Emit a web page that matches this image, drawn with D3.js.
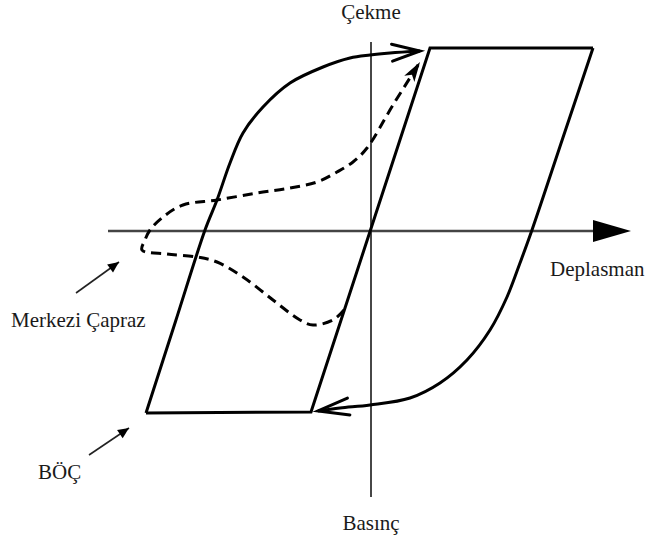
<!DOCTYPE html>
<html>
<head>
<meta charset="utf-8">
<script src="https://cdn.jsdelivr.net/npm/d3@7"></script>
<style>
  html, body { margin: 0; padding: 0; background: #fff; }
  svg { display: block; }
</style>
</head>
<body>
<script>
// ---- Data (schematic units: displacement on x, force on y) ----
const xDomain = [-26.3, 26.4];
const yDomain = [-26.6, 18.9];

// BÖÇ (buckling-restrained brace) frame: bottom-left, bottom-right, top-left, top-right
const bocFrame = [[-22.5, -18.2], [-6.0, -18.1], [5.9, 18.3], [22.2, 18.3]];

// BÖÇ loading curve toward tension (from bottom-left corner up to the arrow tip)
const bocTension = [
  [-22.5, -18.2], [-19.55, -9.05], [-16.6, 0.1], [-15.4, 3.1], [-14.1, 6.8],
  [-12.8, 9.8], [-10.8, 12.4], [-8.1, 14.8], [-4.8, 16.4], [-2.1, 17.3],
  [-0.1, 17.6], [1.9, 17.8], [4.9, 18.0]
];

// BÖÇ unloading curve toward compression (from top-right corner down to the arrow tip)
const bocCompression = [
  [22.2, 18.3], [19.15, 9.2], [16.1, 0.1], [14.9, -3.2], [13.6, -6.6],
  [11.9, -9.9], [9.6, -12.9], [6.9, -15.2], [3.9, -16.7], [-0.1, -17.4],
  [-3.1, -17.7], [-5.3, -18.0]
];

// Merkezi Çapraz (concentric brace) dashed curve
const merkeziCurve = [
  [-2.7, -7.9], [-3.8, -8.9], [-5.8, -9.4], [-7.1, -8.9], [-9.8, -6.9],
  [-12.8, -4.6], [-15.4, -3.1], [-17.4, -2.6], [-20.4, -2.3], [-22.9, -1.9],
  [-22.6, -0.9], [-22.1, 0.1], [-20.8, 1.4], [-18.8, 2.6], [-15.4, 3.1],
  [-11.4, 3.8], [-8.1, 4.3], [-5.4, 4.9], [-3.4, 5.9], [-1.8, 6.9],
  [-0.4, 8.3], [2.2, 12.6], [4.9, 16.9]
];

// Legend pointer arrows [from, to]
const merkeziPointer = [[-29.5, -6.2], [-25.2, -3.1]];
const bocPointer = [[-28.2, -22.4], [-24.2, -19.7]];

// Texts
const axisLabels = { top: "Çekme", bottom: "Basınç", right: "Deplasman" };
const seriesLabels = ["Merkezi Çapraz", "BÖÇ"];

// ---- Drawing ----
const W = 649, H = 539;
const x = d3.scaleLinear().domain(xDomain).range([108, 635]);
const y = d3.scaleLinear().domain(yDomain).range([497, 42]);

const svg = d3.select("body").append("svg").attr("width", W).attr("height", H)
  .attr("font-family", "'Liberation Serif', 'Times New Roman', Times, 'DejaVu Serif', serif");
const defs = svg.append("defs");

function marker(id, d, filled) {
  const m = defs.append("marker")
    .attr("id", id).attr("markerUnits", "userSpaceOnUse")
    .attr("viewBox", "-40 -20 44 40").attr("refX", 0).attr("refY", 0)
    .attr("markerWidth", 44).attr("markerHeight", 40)
    .attr("orient", "auto").attr("overflow", "visible");
  m.append("path").attr("d", d)
    .attr("fill", filled ? "#000" : "none")
    .attr("stroke", filled ? "none" : "#000")
    .attr("stroke-width", filled ? 0 : 3)
    .attr("stroke-linejoin", "miter")
    .attr("stroke-linecap", "round");
}
marker("openTop", "M-28,-8.5 L0,0 L-28,8.5", false);
marker("openBottom", "M-31,-8.5 L0,0 L-31,8.5", false);
marker("dashHead", "M-20,-6 L0,0 L-20,6 L-15,0 Z", true);
marker("pointerHead", "M-11,-5 L0,0 L-11,5 Z", true);

const line = d3.line().x(d => x(d[0])).y(d => y(d[1]));
const smooth = d3.line().x(d => x(d[0])).y(d => y(d[1])).curve(d3.curveCatmullRom.alpha(0.5));

// Axes
svg.append("line")
  .attr("x1", x(xDomain[0])).attr("x2", x(22.4))
  .attr("y1", y(0)).attr("y2", y(0))
  .attr("stroke", "#444").attr("stroke-width", 2.5);
svg.append("path")
  .attr("d", `M${x(22.2)},${y(1.1)} L${x(26.0)},${y(0)} L${x(22.2)},${y(-1.1)} Z`)
  .attr("fill", "#000");
svg.append("line")
  .attr("x1", x(0)).attr("x2", x(0))
  .attr("y1", y(yDomain[1])).attr("y2", y(yDomain[0]))
  .attr("stroke", "#333").attr("stroke-width", 1.8);

// BÖÇ frame
svg.append("path").attr("d", line(bocFrame))
  .attr("fill", "none").attr("stroke", "#000").attr("stroke-width", 3)
  .attr("stroke-linejoin", "miter");

// BÖÇ curves
svg.append("path").attr("d", smooth(bocTension))
  .attr("fill", "none").attr("stroke", "#000").attr("stroke-width", 3)
  .attr("marker-end", "url(#openTop)");
svg.append("path").attr("d", smooth(bocCompression))
  .attr("fill", "none").attr("stroke", "#000").attr("stroke-width", 3)
  .attr("marker-end", "url(#openBottom)");

// Merkezi Çapraz dashed
svg.append("path").attr("d", smooth(merkeziCurve))
  .attr("fill", "none").attr("stroke", "#000").attr("stroke-width", 3)
  .attr("stroke-dasharray", "10,6")
  .attr("marker-end", "url(#dashHead)");

// Pointers
[merkeziPointer, bocPointer].forEach(p => {
  svg.append("path").attr("d", line(p))
    .attr("fill", "none").attr("stroke", "#222").attr("stroke-width", 1.6)
    .attr("marker-end", "url(#pointerHead)");
});

// Labels
const txt = (xx, yy, s, anchor) => svg.append("text")
  .attr("x", xx).attr("y", yy).attr("text-anchor", anchor || "start")
  .attr("font-size", 21).attr("fill", "#1a1a1a").text(s);
txt(x(0), 19, axisLabels.top, "middle");
txt(x(0), 530, axisLabels.bottom, "middle");
txt(550, 276, axisLabels.right);
txt(11, 327, seriesLabels[0]);
txt(38, 479, seriesLabels[1]);
</script>
</body>
</html>
